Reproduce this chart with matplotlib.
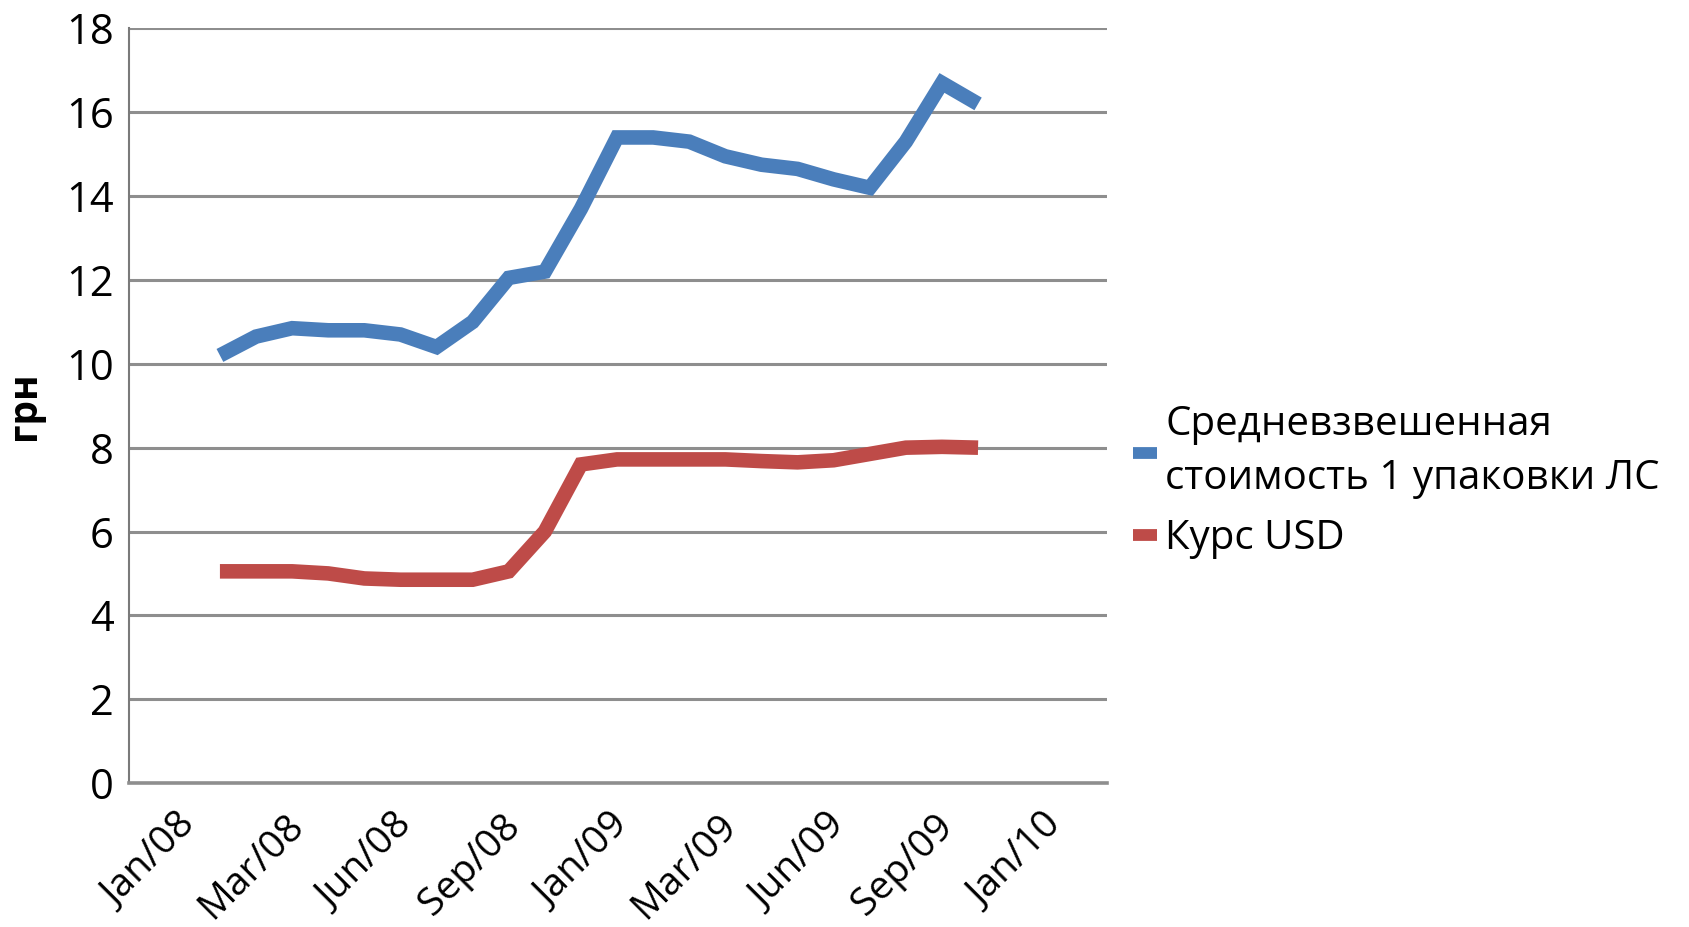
import matplotlib
matplotlib.use("Agg")
import matplotlib.pyplot as plt

plt.rcParams['font.family'] = ['Open Sans', 'DejaVu Sans']

# monthly points, first one at index 0
months = list(range(22))
price = [10.2, 10.65, 10.85, 10.8, 10.8, 10.7, 10.4, 11.0, 12.05, 12.2, 13.7,
         15.4, 15.4, 15.3, 14.95, 14.75, 14.65, 14.4, 14.2, 15.3, 16.7, 16.2]
usd = [5.05, 5.05, 5.05, 5.0, 4.88, 4.85, 4.85, 4.85, 5.05, 6.0, 7.6,
       7.72, 7.72, 7.72, 7.72, 7.68, 7.65, 7.7, 7.85, 8.0, 8.02, 8.0]
x_labels = ['Jan/08', 'Mar/08', 'Jun/08', 'Sep/08', 'Jan/09',
            'Mar/09', 'Jun/09', 'Sep/09', 'Jan/10']
y_ticks = [0, 2, 4, 6, 8, 10, 12, 14, 16, 18]
series_names = ['Средневзвешенная\nстоимость 1 упаковки ЛС', 'Курс USD']

fig = plt.figure(figsize=(16.9, 9.27), dpi=100)
ax = fig.add_axes([0.0763, 0.1553, 0.5787, 0.814])

ax.plot(months, price, color='#4a7ebb', lw=10.5, solid_joinstyle='miter',
        solid_capstyle='butt', label=series_names[0], zorder=3)
ax.plot(months, usd, color='#be4b48', lw=10.5, solid_joinstyle='miter',
        solid_capstyle='butt', label=series_names[1], zorder=3)

ax.set_xlim(-2.52, 24.57)
ax.set_ylim(0, 18)
ax.set_yticks(y_ticks)
ax.set_yticklabels([str(v) for v in y_ticks])
ax.set_xticks([-0.85 + 3 * i for i in range(len(x_labels))])
ax.set_xticklabels(x_labels, rotation=45, ha='right', va='center',
                   rotation_mode='anchor')

ax.grid(axis='y', color='#8e8e8e', lw=2.2, zorder=1)
ax.set_axisbelow(True)
for s in ['top', 'right']:
    ax.spines[s].set_visible(False)
ax.spines['bottom'].set_color('#8e8e8e')
ax.spines['bottom'].set_linewidth(2.6)
ax.spines['left'].set_color('#7a7a7a')
ax.spines['left'].set_linewidth(1.5)

ax.tick_params(axis='y', length=0, pad=11, labelsize=30)
ax.tick_params(axis='x', length=0, pad=27, labelsize=28)

ax.set_ylabel('грн', fontsize=28, fontweight='bold', labelpad=16)

leg = ax.legend(loc='center left', bbox_to_anchor=(1117 / 1690, 0.48),
                bbox_transform=fig.transFigure, frameon=False, fontsize=29,
                handlelength=0.6, handletextpad=0.2, labelspacing=0.5,
                borderaxespad=0)
for line in leg.get_lines():
    line.set_linewidth(8.5)
for t in leg.get_texts():
    t.set_linespacing(1.42)

fig.savefig('out.png', dpi=100)
